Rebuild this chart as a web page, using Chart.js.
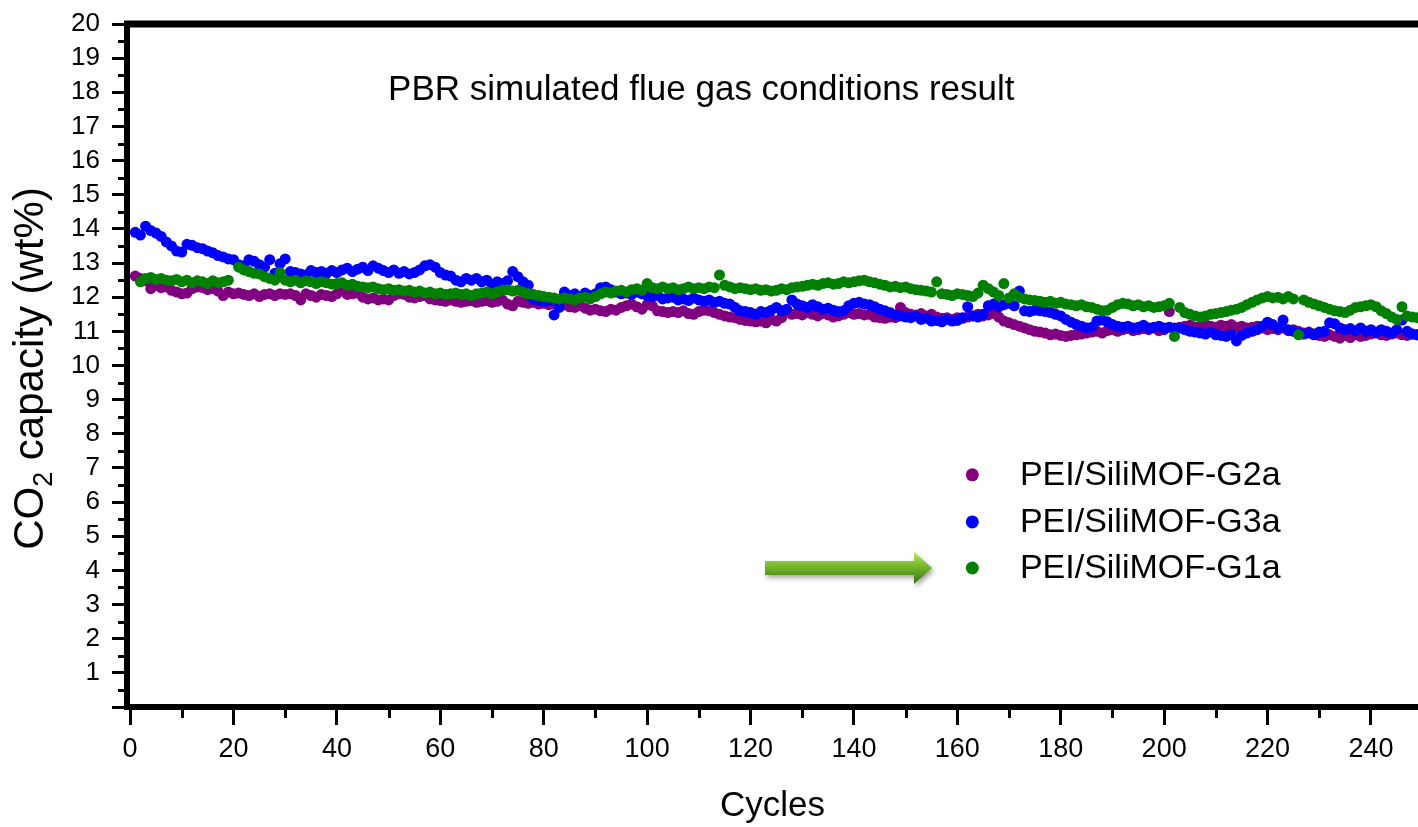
<!DOCTYPE html>
<html>
<head>
<meta charset="utf-8">
<script src="https://cdn.jsdelivr.net/npm/chart.js@4"></script>
<style>
  html, body { margin: 0; padding: 0; background: #fff; }
  canvas { display: block; }
</style>
</head>
<body>
<canvas id="chart" width="1418" height="827"></canvas>
<script>
// tick positions
const xTicks = [0, 20, 40, 60, 80, 100, 120, 140, 160, 180, 200, 220, 240];
const yTicks = [0, 1, 2, 3, 4, 5, 6, 7, 8, 9, 10, 11, 12, 13, 14, 15, 16, 17, 18, 19, 20];

const seriesNames = ["PEI/SiliMOF-G2a", "PEI/SiliMOF-G3a", "PEI/SiliMOF-G1a"];
const seriesColors = ["#800080", "#0000ff", "#008000"];

// CO2 capacity per cycle (cycle 1 .. 249)
const g2a = [
  12.62, 12.55, 12.48, 12.25, 12.35, 12.28, 12.30, 12.20, 12.15, 12.10,
  12.12, 12.25, 12.30, 12.28, 12.22, 12.25, 12.18, 12.05, 12.15, 12.10,
  12.12, 12.08, 12.05, 12.10, 12.02, 12.08, 12.10, 12.05, 12.10, 12.08,
  12.10, 12.05, 11.92, 12.10, 12.05, 12.00, 12.08, 12.05, 12.02, 12.10,
  12.20, 12.08, 12.10, 12.12, 12.00, 11.95, 11.98, 11.92, 11.95, 11.92,
  12.05, 12.10, 12.08, 12.00, 11.98, 12.02, 12.05, 11.95, 11.92, 11.90,
  11.88, 11.92, 11.88, 11.85, 11.88, 11.90, 11.85, 11.88, 11.90, 11.85,
  11.88, 11.92, 11.80, 11.75, 11.88, 11.85, 11.82, 11.85, 11.80, 11.82,
  11.78, 11.80, 11.75, 11.78, 11.72, 11.70, 11.75, 11.68, 11.62, 11.65,
  11.60, 11.58, 11.65, 11.62, 11.70, 11.75, 11.80, 11.72, 11.65, 11.78,
  11.75, 11.60, 11.58, 11.55, 11.58, 11.55, 11.60, 11.52, 11.50, 11.58,
  11.62, 11.60, 11.55, 11.50, 11.45, 11.42, 11.40, 11.35, 11.32, 11.30,
  11.28, 11.30, 11.25, 11.35, 11.30, 11.40, 11.55, 11.50, 11.52, 11.48,
  11.55, 11.50, 11.45, 11.52, 11.48, 11.42, 11.45, 11.50, 11.55, 11.50,
  11.52, 11.48, 11.50, 11.42, 11.40, 11.38, 11.42, 11.40, 11.70, 11.55,
  11.50, 11.48, 11.52, 11.45, 11.50, 11.42, 11.38, 11.40, 11.35, 11.40,
  11.38, 11.42, 11.45, 11.50, 11.45, 11.48, 11.52, 11.42, 11.30, 11.25,
  11.20, 11.15, 11.10, 11.05, 11.00, 10.98, 10.95, 10.90, 10.92, 10.88,
  10.85, 10.88, 10.90, 10.92, 10.95, 10.98, 11.00, 10.95, 11.02, 11.05,
  11.00, 11.05, 11.08, 11.02, 11.05, 11.08, 11.05, 11.10, 11.02, 11.05,
  11.58, 11.10, 11.12, 11.15, 11.18, 11.12, 11.15, 11.20, 11.15, 11.12,
  11.18, 11.15, 11.20, 11.12, 11.15, 11.10, 11.12, 11.15, 11.10, 11.05,
  11.08, 11.05, 11.10, 11.02, 11.05, 11.00, 10.95, 10.98, 10.92, 10.88,
  10.85, 10.90, 10.85, 10.80, 10.88, 10.82, 10.90, 10.85, 10.88, 10.92,
  10.95, 10.90, 10.88, 10.92, 10.95, 10.90, 10.88, 10.92, 10.90
];

const g3a = [
  13.90, 13.82, 14.08, 13.95, 13.88, 13.78, 13.62, 13.50, 13.35, 13.32,
  13.55, 13.52, 13.45, 13.42, 13.35, 13.30, 13.22, 13.18, 13.12, 13.10,
  12.95, 12.92, 13.10, 13.05, 12.95, 12.88, 13.10, 12.70, 12.98, 13.12,
  12.75, 12.72, 12.68, 12.65, 12.78, 12.72, 12.75, 12.70, 12.78, 12.72,
  12.80, 12.85, 12.75, 12.82, 12.88, 12.78, 12.92, 12.85, 12.78, 12.72,
  12.80, 12.70, 12.75, 12.68, 12.72, 12.80, 12.92, 12.95, 12.88, 12.72,
  12.65, 12.62, 12.50, 12.45, 12.55, 12.50, 12.55, 12.45, 12.50, 12.38,
  12.45, 12.40, 12.48, 12.75, 12.60, 12.45, 12.35, 11.95, 11.90, 11.88,
  11.90, 11.48, 11.70, 12.15, 12.05, 12.10, 12.00, 12.12, 12.05, 12.10,
  12.28, 12.30, 12.22, 12.15, 12.10, 12.12, 12.08, 12.15, 12.10, 12.05,
  12.02, 12.05, 11.95, 11.98, 12.00, 11.92, 11.95, 11.90, 11.98, 11.92,
  11.88, 11.92, 11.85, 11.88, 11.82, 11.80, 11.70, 11.60, 11.58, 11.55,
  11.50, 11.58, 11.55, 11.62, 11.70, 11.60, 11.65, 11.92, 11.80, 11.75,
  11.70, 11.78, 11.72, 11.65, 11.68, 11.62, 11.58, 11.60, 11.75, 11.82,
  11.85, 11.80, 11.78, 11.72, 11.65, 11.60, 11.55, 11.48, 11.45, 11.42,
  11.40, 11.45, 11.35, 11.38, 11.30, 11.32, 11.28, 11.35, 11.30, 11.32,
  11.40, 11.72, 11.45, 11.42, 11.50, 11.75, 11.80, 11.72, 11.78, 11.82,
  11.75, 12.18, 11.60, 11.58, 11.62, 11.60, 11.58, 11.55, 11.50, 11.45,
  11.35, 11.27, 11.20, 11.15, 11.10, 11.12, 11.30, 11.33, 11.28, 11.20,
  11.15, 11.12, 11.15, 11.10, 11.12, 11.18, 11.10, 11.12, 11.15, 11.10,
  11.12, 11.08, 11.10, 11.05, 11.00, 10.98, 10.95, 10.92, 10.98, 10.90,
  10.88, 10.85, 10.90, 10.72, 10.88, 10.95, 11.00, 11.05, 11.15, 11.27,
  11.20, 11.10, 11.33, 11.05, 11.00, 10.95, 10.92, 10.95, 10.90, 10.98,
  11.00, 11.25, 11.22, 11.10, 11.05, 11.08, 11.02, 11.10, 11.00, 11.05,
  10.98, 11.05, 11.00, 10.95, 11.05, 11.33, 11.00, 10.92, 10.90
];

const g1a = [
  null,  12.45, 12.55, 12.58, 12.52, 12.55, 12.50, 12.48, 12.52, 12.45,
  12.50, 12.42, 12.48, 12.45, 12.40, 12.48, 12.42, 12.45, 12.50, null,
  12.88, 12.80, 12.75, 12.70, 12.68, 12.60, 12.55, 12.50, 12.72, 12.50,
  12.45, 12.50, 12.42, 12.48, 12.45, 12.40, 12.45, 12.42, 12.38, 12.40,
  12.42, 12.35, 12.38, 12.32, 12.30, 12.28, 12.30, 12.25, 12.22, 12.25,
  12.20, 12.22, 12.18, 12.20, 12.15, 12.18, 12.12, 12.15, 12.10, 12.12,
  12.08, 12.10, 12.12, 12.08, 12.10, 12.05, 12.10, 12.12, 12.15, 12.10,
  12.15, 12.20, 12.22, 12.18, 12.20, 12.15, 12.10, 12.08, 12.05, 12.02,
  12.00, 11.98, 11.95, 11.98, 11.95, 11.92, 11.98, 12.00, 11.95, 12.02,
  12.10, 12.15, 12.12, 12.18, 12.20, 12.15, 12.22, 12.25, 12.20, 12.40,
  12.28, 12.25, 12.30, 12.25, 12.28, 12.22, 12.25, 12.30, 12.25, 12.28,
  12.25, 12.30, 12.28, 12.65, 12.35, 12.30, 12.25, 12.28, 12.25, 12.22,
  12.25, 12.20, 12.22, 12.18, 12.20, 12.25, 12.22, 12.28, 12.30, 12.32,
  12.35, 12.38, 12.35, 12.40, 12.42, 12.38, 12.40, 12.45, 12.42, 12.45,
  12.48, 12.50, 12.45, 12.42, 12.38, 12.35, 12.30, 12.32, 12.28, 12.30,
  12.25, 12.22, 12.20, 12.18, 12.15, 12.45, 12.10, 12.08, 12.05, 12.10,
  12.08, 12.05, 12.02, 12.12, 12.35, 12.25, 12.15, 12.05, 12.40, 11.98,
  12.10, 12.00, 11.95, 11.92, 11.90, 11.88, 11.85, 11.88, 11.82, 11.85,
  11.80, 11.78, 11.75, 11.78, 11.72, 11.70, 11.65, 11.60, 11.62, 11.70,
  11.78, 11.82, 11.80, 11.75, 11.78, 11.72, 11.75, 11.70, 11.72, 11.75,
  11.82, 10.85, 11.70, 11.55, 11.50, 11.45, 11.42, 11.45, 11.50, 11.52,
  11.55, 11.58, 11.62, 11.65, 11.70, 11.78, 11.85, 11.92, 11.98, 12.02,
  11.98, 12.00, 11.95, 12.02, 11.95, 10.90, 11.92, 11.85, 11.80, 11.75,
  11.70, 11.65, 11.60, 11.58, 11.55, 11.62, 11.70, 11.72, 11.75, 11.78,
  11.72, 11.60, 11.52, 11.42, 11.35, 11.72, 11.45, 11.42, 11.40
];

const cycles = g2a.map((v, i) => i + 1);

function toPoints(values) {
    return cycles.map((c, i) => ({ x: c, y: values[i] }));
}

const FONT = "'Liberation Sans', Arial, sans-serif";

// extra drawing: frame top, minor ticks, title text, y title with subscript, legend + arrow
const decorations = {
    id: "decorations",
    afterDraw(chart) {
        const ctx = chart.ctx;
        const a = chart.chartArea;
        const x = chart.scales.x;
        const y = chart.scales.y;
        ctx.save();

        // top frame line
        ctx.fillStyle = "#000";
        ctx.fillRect(a.left - 3, a.top - 3.5, a.right - a.left + 3, 7);

        // minor ticks
        ctx.strokeStyle = "#000";
        ctx.lineWidth = 3;
        for (let v = 10; v < 250; v += 20) {
            const px = Math.round(x.getPixelForValue(v)) + 0.5;
            ctx.beginPath();
            ctx.moveTo(px, a.bottom + 3);
            ctx.lineTo(px, a.bottom + 11);
            ctx.stroke();
        }
        for (let v = 0.5; v < 20; v += 1) {
            const py = Math.round(y.getPixelForValue(v)) + 0.5;
            ctx.beginPath();
            ctx.moveTo(a.left - 3, py);
            ctx.lineTo(a.left - 9, py);
            ctx.stroke();
        }

        // in-plot title
        ctx.fillStyle = "#000";
        ctx.font = "35px " + FONT;
        ctx.textAlign = "left";
        ctx.textBaseline = "middle";
        ctx.fillText("PBR simulated flue gas conditions result", x.getPixelForValue(49.9), y.getPixelForValue(18.07));

        // y axis title with subscript
        ctx.save();
        ctx.translate(43, (a.top + a.bottom) / 2 + 3);
        ctx.rotate(-Math.PI / 2);
        ctx.textBaseline = "alphabetic";
        const big = "42px " + FONT;
        const small = "27px " + FONT;
        ctx.font = big;
        const w1 = ctx.measureText("CO").width;
        const w3 = ctx.measureText(" capacity (wt%)").width;
        ctx.font = small;
        const w2 = ctx.measureText("2").width;
        let sx = -(w1 + w2 + w3) / 2;
        ctx.font = big;
        ctx.fillText("CO", sx, 0);
        sx += w1;
        ctx.font = small;
        ctx.fillText("2", sx, 9);
        sx += w2;
        ctx.font = big;
        ctx.fillText(" capacity (wt%)", sx, 0);
        ctx.restore();

        // legend
        const rows = [6.8, 5.42, 4.07];
        const dotX = x.getPixelForValue(162.9);
        const textX = x.getPixelForValue(172.1);
        ctx.font = "34px " + FONT;
        ctx.textBaseline = "middle";
        rows.forEach((r, i) => {
            const py = y.getPixelForValue(r);
            ctx.fillStyle = seriesColors[i];
            ctx.beginPath();
            ctx.arc(dotX, py, 6.5, 0, Math.PI * 2);
            ctx.fill();
            ctx.fillStyle = "#000";
            ctx.fillText(seriesNames[i], textX, py + 1);
        });

        // green arrow pointing to G1a
        const ay = y.getPixelForValue(4.07);
        const ax0 = x.getPixelForValue(122.8);
        const ax1 = x.getPixelForValue(155.1);
        const headLen = 18;
        ctx.save();
        ctx.shadowColor = "rgba(0,0,0,0.35)";
        ctx.shadowBlur = 5;
        ctx.shadowOffsetX = 2;
        ctx.shadowOffsetY = 3;
        const grad = ctx.createLinearGradient(0, ay - 16, 0, ay + 16);
        grad.addColorStop(0, "#b8e65e");
        grad.addColorStop(0.45, "#76b82a");
        grad.addColorStop(1, "#356f10");
        ctx.fillStyle = grad;
        ctx.beginPath();
        ctx.moveTo(ax0, ay - 7);
        ctx.lineTo(ax1 - headLen, ay - 7);
        ctx.lineTo(ax1 - headLen, ay - 16);
        ctx.lineTo(ax1, ay);
        ctx.lineTo(ax1 - headLen, ay + 16);
        ctx.lineTo(ax1 - headLen, ay + 7);
        ctx.lineTo(ax0, ay + 7);
        ctx.closePath();
        ctx.fill();
        ctx.restore();

        ctx.restore();
    }
};

new Chart(document.getElementById("chart"), {
    type: "scatter",
    data: {
        // drawn green on top, then blue, purple underneath
        datasets: [
            { label: seriesNames[2], data: toPoints(g1a), backgroundColor: seriesColors[2] },
            { label: seriesNames[1], data: toPoints(g3a), backgroundColor: seriesColors[1] },
            { label: seriesNames[0], data: toPoints(g2a), backgroundColor: seriesColors[0] }
        ].map(d => Object.assign(d, { pointRadius: 5.5, borderWidth: 0, pointHoverRadius: 5.5 }))
    },
    options: {
        responsive: false,
        animation: false,
        devicePixelRatio: 1,
        layout: { autoPadding: false, padding: { top: 24, right: 0, left: 0, bottom: 0 } },
        plugins: {
            legend: { display: false },
            tooltip: { enabled: false }
        },
        scales: {
            x: {
                type: "linear",
                min: -0.6,
                max: 249.1,
                afterBuildTicks: s => { s.ticks = xTicks.map(v => ({ value: v })); },
                afterFit: s => { s.height = 120; s.paddingLeft = 0; s.paddingRight = 0; },
                grid: { drawOnChartArea: false, drawTicks: true, tickLength: 18, tickWidth: 3, tickColor: "#000" },
                border: { display: true, width: 6, color: "#000" },
                ticks: { color: "#000", font: { family: FONT, size: 27 }, padding: 8, maxRotation: 0, autoSkip: false },
                title: { display: true, text: "Cycles", color: "#000", font: { family: FONT, size: 35 }, padding: { top: 0, bottom: 0 } }
            },
            y: {
                type: "linear",
                min: 0,
                max: 20,
                afterBuildTicks: s => { s.ticks = yTicks.map(v => ({ value: v })); },
                afterFit: s => { s.width = 127; s.paddingTop = 0; s.paddingBottom = 0; },
                grid: { drawOnChartArea: false, drawTicks: true, tickLength: 15, tickWidth: 3, tickColor: "#000" },
                border: { display: true, width: 6, color: "#000" },
                ticks: {
                    color: "#000",
                    font: { family: FONT, size: 26 },
                    padding: 12,
                    autoSkip: false,
                    callback: v => (v === 0 ? "" : String(v))
                }
            }
        }
    },
    plugins: [decorations]
});
</script>
</body>
</html>
